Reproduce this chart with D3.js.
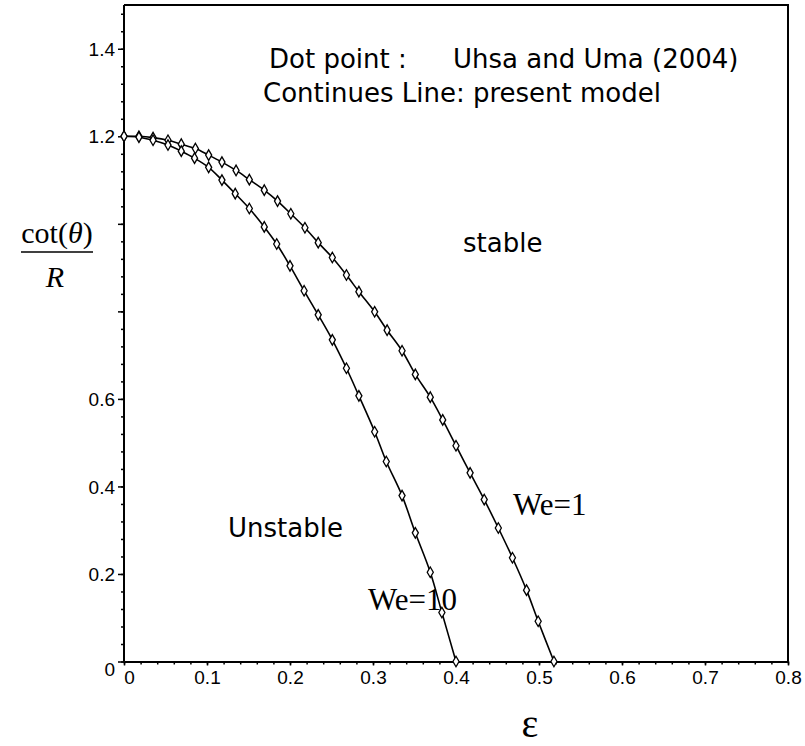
<!DOCTYPE html>
<html>
<head>
<meta charset="utf-8">
<script src="https://cdn.jsdelivr.net/npm/d3@7/dist/d3.min.js"></script>
<style>
  body { margin: 0; background: #fff; }
</style>
</head>
<body>
<div id="chart"></div>
<script>
// Axis ticks
const epsTicks = [0, 0.1, 0.2, 0.3, 0.4, 0.5, 0.6, 0.7, 0.8];
const ratioTicks = [0, 0.2, 0.4, 0.6, 0.8, 1.0, 1.2, 1.4];
const ratioLabelled = [0, 0.2, 0.4, 0.6, 1.2, 1.4];

// We = 1 curve (eps, cot(theta)/R)
const we1Eps   = [0, 0.018, 0.035, 0.053, 0.069, 0.086, 0.102, 0.118, 0.135, 0.151, 0.169, 0.185,
                  0.201, 0.218, 0.234, 0.251, 0.268, 0.283, 0.302, 0.317, 0.335, 0.351, 0.369,
                  0.384, 0.400, 0.417, 0.434, 0.451, 0.468, 0.485, 0.499, 0.518];
const we1Ratio = [1.2, 1.2, 1.197, 1.191, 1.182, 1.172, 1.157, 1.141, 1.122, 1.101, 1.077, 1.052,
                  1.023, 0.991, 0.957, 0.923, 0.883, 0.845, 0.799, 0.757, 0.710, 0.656, 0.604,
                  0.552, 0.493, 0.431, 0.370, 0.305, 0.237, 0.163, 0.092, 0.0];

// We = 10 curve
const we10Eps   = [0, 0.018, 0.035, 0.053, 0.069, 0.085, 0.102, 0.118, 0.134, 0.151, 0.169, 0.184,
                   0.200, 0.217, 0.234, 0.251, 0.268, 0.283, 0.302, 0.316, 0.335, 0.351, 0.369,
                   0.383, 0.400];
const we10Ratio = [1.2, 1.198, 1.191, 1.180, 1.166, 1.150, 1.129, 1.100, 1.069, 1.035, 0.993, 0.954,
                   0.904, 0.847, 0.792, 0.735, 0.670, 0.607, 0.525, 0.457, 0.379, 0.294, 0.204,
                   0.112, 0.0];

const width = 805, height = 746;
const sans = '"DejaVu Sans", Verdana, sans-serif';
const serif = '"Liberation Serif", "Times New Roman", serif';
const tickFont = '"Liberation Sans", Arial, sans-serif';

const svg = d3.select('#chart').append('svg')
  .attr('width', width)
  .attr('height', height)
  .style('background', '#fff');

const x = d3.scaleLinear().domain([0, 0.8]).range([124, 788]);
const y = d3.scaleLinear().domain([0, 1.5]).range([661.5, 5]);

// Frame: top and right edges
svg.append('path')
  .attr('d', `M${x(0)},${y(1.5)}H${x(0.8)}V${y(0)}`)
  .attr('fill', 'none')
  .attr('stroke', '#000')
  .attr('stroke-width', 2);

// Minor ticks
const xMinor = d3.range(0, 41).map(i => i * 0.02);
svg.append('g')
  .attr('transform', `translate(0,${y(0)})`)
  .call(d3.axisBottom(x).tickValues(xMinor).tickSize(3).tickFormat(''))
  .call(g => g.select('.domain').remove())
  .selectAll('line').attr('stroke-width', 1.5);

const yMinor = d3.range(0, 38).map(i => i * 0.04);
svg.append('g')
  .attr('transform', `translate(${x(0)},0)`)
  .call(d3.axisLeft(y).tickValues(yMinor).tickSize(3).tickFormat(''))
  .call(g => g.select('.domain').remove())
  .selectAll('line').attr('stroke-width', 1.5);

// Major x axis
const xAxis = svg.append('g')
  .attr('transform', `translate(0,${y(0)})`)
  .call(d3.axisBottom(x).tickValues(epsTicks).tickSize(4).tickSizeOuter(0)
    .tickFormat(d => d === 0 ? '0' : d3.format('.1f')(d)));
xAxis.select('.domain').attr('stroke-width', 2);
xAxis.selectAll('line').attr('stroke-width', 1.5);
xAxis.selectAll('text')
  .attr('font-family', tickFont)
  .attr('font-size', '19px')
  .attr('fill', '#000')
  .attr('y', 9)
  .attr('dx', d => d === 0 ? '5px' : 0);

// Major y axis
const yAxis = svg.append('g')
  .attr('transform', `translate(${x(0)},0)`)
  .call(d3.axisLeft(y).tickValues(ratioTicks).tickSize(6).tickSizeOuter(0)
    .tickFormat(d => ratioLabelled.includes(d) ? (d === 0 ? '0' : d3.format('.1f')(d)) : ''));
yAxis.select('.domain').attr('stroke-width', 2)
  .attr('d', `M0,${y(0)}V${y(1.5)}`);
yAxis.selectAll('line').attr('stroke-width', 1.5);
yAxis.selectAll('text')
  .attr('font-family', tickFont)
  .attr('font-size', '19px')
  .attr('fill', '#000')
  .attr('x', -9)
  .attr('dy', d => d === 0 ? '0.75em' : '0.35em');

// Curves and markers
const series = [
  { eps: we1Eps, ratio: we1Ratio },
  { eps: we10Eps, ratio: we10Ratio }
];

const line = d3.line()
  .x(d => x(d[0]))
  .y(d => y(d[1]))
  .curve(d3.curveCatmullRom);

const diamond = d3.symbol().type(d3.symbolDiamond).size(32);

series.forEach(s => {
  const pts = s.eps.map((e, i) => [e, s.ratio[i]]);
  svg.append('path')
    .datum(pts)
    .attr('d', line)
    .attr('fill', 'none')
    .attr('stroke', '#000')
    .attr('stroke-width', 1.6);

  svg.append('g').selectAll('path')
    .data(pts)
    .join('path')
    .attr('transform', d => `translate(${x(d[0])},${y(d[1])})`)
    .attr('d', diamond)
    .attr('fill', '#fff')
    .attr('stroke', '#000')
    .attr('stroke-width', 1.3);
});

// Annotations
function label(txt, px, py, font, size, anchor) {
  return svg.append('text')
    .attr('x', px)
    .attr('y', py)
    .attr('font-family', font)
    .attr('font-size', size + 'px')
    .attr('text-anchor', anchor || 'start')
    .attr('fill', '#000')
    .text(txt);
}

label('Dot point :', 269, 68, sans, 26);
label('Uhsa and Uma (2004)', 453, 68, sans, 26);
label('Continues Line: present model', 263, 102, sans, 26);
label('stable', 463, 252, sans, 26);
label('Unstable', 228, 537, sans, 26);
label('We=1', 513, 515, serif, 31);
label('We=10', 368, 610, serif, 31);
label('ε', 530, 737, serif, 40, 'middle');

// y axis title as a fraction
const yt = svg.append('text')
  .attr('x', 57)
  .attr('y', 243)
  .attr('font-family', serif)
  .attr('font-size', '30px')
  .attr('text-anchor', 'middle')
  .attr('fill', '#000');
yt.append('tspan').text('cot(');
yt.append('tspan').attr('font-style', 'italic').text('θ');
yt.append('tspan').text(')');
svg.append('line')
  .attr('x1', 21).attr('x2', 93)
  .attr('y1', 252).attr('y2', 252)
  .attr('stroke', '#000')
  .attr('stroke-width', 1.5);
label('R', 55, 287, serif, 30, 'middle').attr('font-style', 'italic');
</script>
</body>
</html>
